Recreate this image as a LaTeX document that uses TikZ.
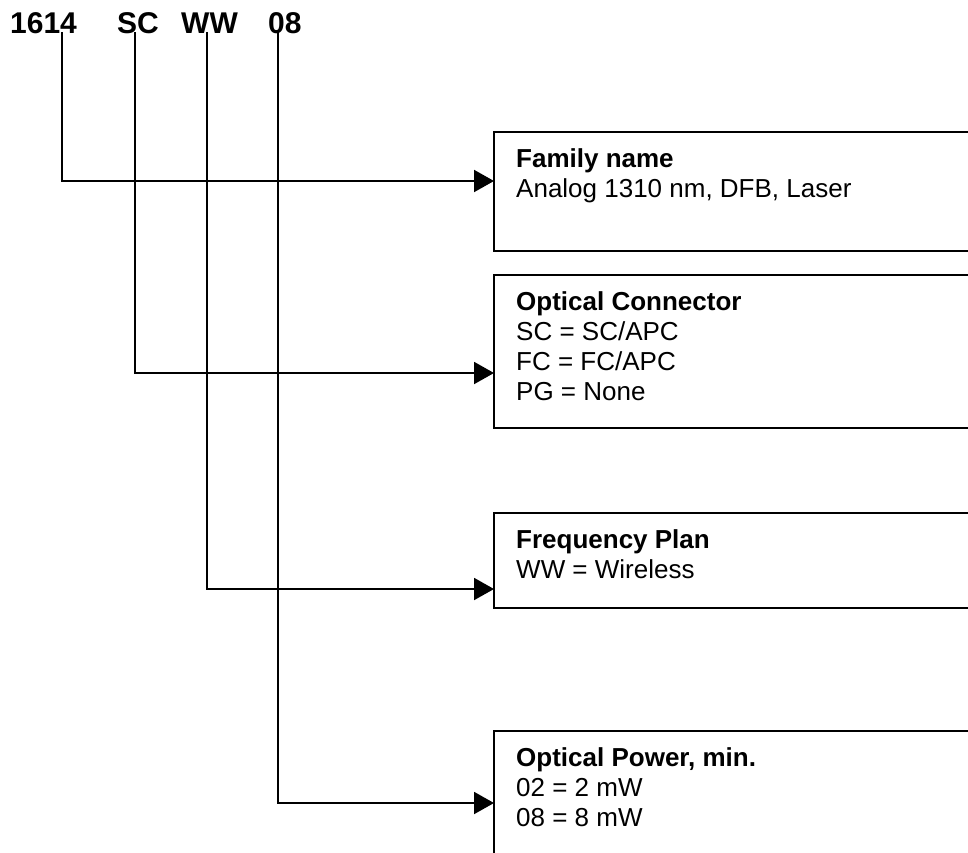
\documentclass[tikz,border=0pt]{standalone}
\usepackage{fontspec}
\setmainfont{Liberation Sans}
\usetikzlibrary{arrows.meta}

\tikzset{
  code/.style={anchor=base west, inner sep=0pt, font=\fontsize{30}{36}\selectfont\bfseries},
  partbox/.style={draw, line width=2pt, minimum width=520pt, anchor=north west, inner sep=0pt, outer sep=0pt},
  parttext/.style={anchor=north west, inner sep=0pt, align=left, font=\fontsize{26}{30}\selectfont},
  lead/.style={line width=2pt, -{Triangle[length=20pt,width=22pt]}}
}

\begin{document}
\begin{tikzpicture}[x=1pt,y=-1pt]
	\clip (0,0) rectangle (968,852);
	% part number
	\node[code] (fam) at (10,33) {1614};
	\node[code] (con) at (117,33) {SC};
	\node[code] (frq) at (181,33) {WW};
	\node[code] (pow) at (268,33) {08};
	% boxes
	\node[partbox, minimum height=119pt] (famb) at (494,132) {};
	\node[partbox, minimum height=153pt] (conb) at (494,275) {};
	\node[partbox, minimum height=95pt] (frqb) at (494,513) {};
	\node[partbox, minimum height=160pt] (powb) at (494,731) {};
	\node[parttext] (famt) at ([shift={(22,16)}]famb.north west)
		{\textbf{Family name}\\Analog 1310 nm, DFB, Laser};
	\node[parttext] (cont) at ([shift={(22,16)}]conb.north west)
		{\textbf{Optical Connector}\\SC = SC/APC\\FC = FC/APC\\PG = None};
	\node[parttext] (frqt) at ([shift={(22,16)}]frqb.north west)
		{\textbf{Frequency Plan}\\WW = Wireless};
	\node[parttext] (powt) at ([shift={(22,16)}]powb.north west)
		{\textbf{Optical Power, min.}\\02 = 2 mW\\08 = 8 mW};
	% leads
	\coordinate (t1) at (62,32);
	\coordinate (t2) at (135,32);
	\coordinate (t3) at (207,32);
	\coordinate (t4) at (278,32);
	\coordinate (r1) at (0,181);
	\coordinate (r2) at (0,373);
	\coordinate (r3) at (0,589);
	\coordinate (r4) at (0,803);
	\draw[lead] (t1) |- (famb.west |- r1);
	\draw[lead] (t2) |- (conb.west |- r2);
	\draw[lead] (t3) |- (frqb.west |- r3);
	\draw[lead] (t4) |- (powb.west |- r4);
\end{tikzpicture}
\end{document}
